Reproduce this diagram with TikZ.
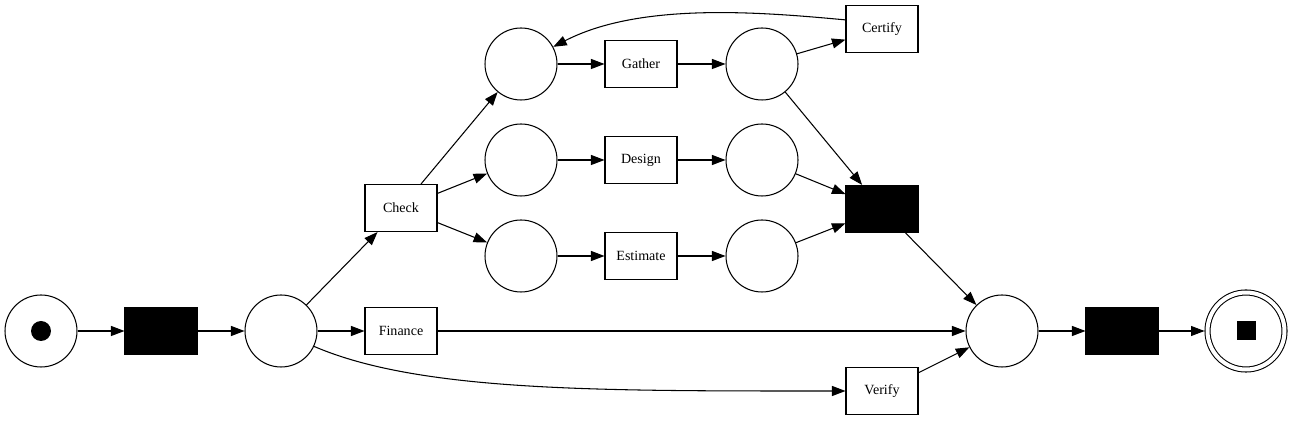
\documentclass[tikz,border=0pt]{standalone}
\usepackage{fontspec}
\setmainfont{Liberation Serif}
\usepackage{tikz}
\usetikzlibrary{positioning, arrows.meta}
\definecolor{pnBlack}{RGB}{0, 0, 0}
\tikzset{
    base/.style={
        font=\fontsize{8}{9.6}\selectfont,
        align=center,
        line width=0.6pt
    },
    place/.style={
        base,
        circle,
        draw=pnBlack,
        fill=white,
        minimum size=1.44cm,
        inner sep=0pt
    },
    final/.style={
        place,
        minimum size=1.54cm,
        double,
        double distance=0.08cm,
        outer sep=0.06cm
    },
    trans/.style={
        base,
        rectangle,
        draw=pnBlack,
        fill=white,
        minimum width=1.44cm,
        minimum height=0.94cm,
        inner sep=0pt
    },
    silent/.style={
        trans,
        fill=pnBlack
    },
    token/.style={
        circle,
        fill=pnBlack,
        minimum size=0.4cm,
        inner sep=0pt
    },
    stoptoken/.style={
        rectangle,
        fill=pnBlack,
        minimum size=0.38cm,
        inner sep=0pt
    },
    flow/.style={
        -{Triangle[length=0.27cm, width=0.2cm]},
        line width=0.6pt,
        color=pnBlack
    }
}

\begin{document}
\begin{tikzpicture}[x=0.02cm, y=-0.02cm]
  \useasboundingbox (0,0) rectangle (1295,421);

  % Places
  \node[place] (start) at (41,331) {};
  \node[token] (starttok) at (start) {};
  \node[place] (p1) at (281,331) {};
  \node[place] (p2) at (521,64) {};
  \node[place] (p3) at (521,160) {};
  \node[place] (p4) at (521,256) {};
  \node[place] (p5) at (762,64) {};
  \node[place] (p6) at (762,160) {};
  \node[place] (p7) at (762,256) {};
  \node[place] (p8) at (1002,331) {};
  \node[final] (end) at (1246,331) {};
  \node[stoptoken] (endtok) at (end) {};

  % Transitions
  \node[silent] (t1) at (161,331) {};
  \node[trans] (check) at (401,208) {Check};
  \node[trans] (finance) at (401,331) {Finance};
  \node[trans] (gather) at (641,64) {Gather};
  \node[trans] (design) at (641,160) {Design};
  \node[trans] (estimate) at (641,256) {Estimate};
  \node[trans] (certify) at (882,29) {Certify};
  \node[silent] (t2) at (882,209) {};
  \node[trans] (verify) at (882,391) {Verify};
  \node[silent] (t3) at (1122,331) {};

  % Arcs
  \draw[flow] (start) -- (t1);
  \draw[flow] (t1) -- (p1);
  \draw[flow] (p1) -- (check);
  \draw[flow] (p1) -- (finance);
  \draw[flow] (p1.-25) .. controls (420,392) and (600,391) .. (verify.west);
  \draw[flow] (check) -- (p2);
  \draw[flow] (check) -- (p3);
  \draw[flow] (check) -- (p4);
  \draw[flow] (p2) -- (gather);
  \draw[flow] (p3) -- (design);
  \draw[flow] (p4) -- (estimate);
  \draw[flow] (gather) -- (p5);
  \draw[flow] (design) -- (p6);
  \draw[flow] (estimate) -- (p7);
  \draw[flow] (p5) -- (certify);
  \draw[flow] (certify.166) .. controls (760,12) and (640,2) .. (p2.28);
  \draw[flow] (p5) -- (t2);
  \draw[flow] (p6) -- (t2);
  \draw[flow] (p7) -- (t2);
  \draw[flow] (t2) -- (p8);
  \draw[flow] (finance) -- (p8);
  \draw[flow] (verify) -- (p8);
  \draw[flow] (p8) -- (t3);
  \draw[flow] (t3) -- (end);
\end{tikzpicture}
\end{document}
